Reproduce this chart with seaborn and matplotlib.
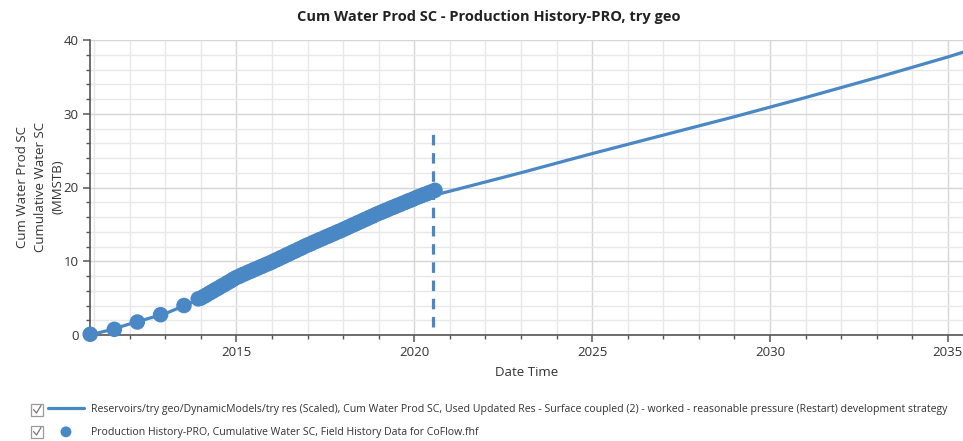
import matplotlib
matplotlib.use("Agg")
import matplotlib.pyplot as plt
import matplotlib.dates as mdates
from matplotlib.lines import Line2D
from matplotlib.patches import Rectangle
from matplotlib.ticker import MultipleLocator
import numpy as np
import pandas as pd
import seaborn as sns

# Simulated cumulative water production (MMSTB)
sim_dates = ["2010-11-20", "2011-07-01", "2012-01-01", "2012-07-01", "2013-01-01",
             "2013-07-01", "2014-01-01", "2014-07-01", "2015-01-01", "2015-07-01",
             "2016-01-01", "2016-07-01", "2017-01-01", "2017-07-01", "2018-01-01",
             "2018-07-01", "2019-01-01", "2019-07-01", "2020-01-01", "2020-08-01",
             "2021-01-01", "2022-01-01", "2023-01-01", "2024-01-01", "2025-01-01",
             "2026-01-01", "2027-01-01", "2028-01-01", "2029-01-01", "2030-01-01",
             "2031-01-01", "2032-01-01", "2033-01-01", "2034-01-01", "2035-01-01",
             "2035-07-01"]
sim_values = [0.0, 0.75, 1.5, 2.2, 2.9, 3.9, 4.95, 6.3, 7.7, 8.8,
              9.8, 11.0, 12.1, 13.2, 14.2, 15.3, 16.3, 17.3, 18.2, 19.0,
              19.5, 20.75, 22.0, 23.3, 24.6, 25.85, 27.1, 28.35, 29.6, 30.9,
              32.2, 33.55, 34.9, 36.3, 37.7, 38.45]

# Field history: early sparse readings
hist_early_dates = ["2010-11-22", "2011-07-28", "2012-03-20", "2012-11-14",
                    "2013-07-12", "2013-12-05"]
hist_early_values = [0.1, 0.77, 1.76, 2.75, 4.0, 4.9]

# Field history: monthly readings Jan 2014 - Aug 2020
hist_monthly_start = "2014-01-01"
hist_monthly_values = [
    5.00, 5.23, 5.44, 5.69, 5.91, 6.16, 6.37, 6.63, 6.84, 7.09, 7.31, 7.57,
    7.80, 7.96, 8.16, 8.32, 8.51, 8.67, 8.86, 9.02, 9.21, 9.37, 9.56, 9.71,
    9.90, 10.10, 10.27, 10.48, 10.65, 10.87, 11.04, 11.25, 11.42, 11.63, 11.80, 12.02,
    12.20, 12.36, 12.56, 12.71, 12.91, 13.06, 13.26, 13.41, 13.61, 13.76, 13.96, 14.11,
    14.30, 14.49, 14.66, 14.86, 15.02, 15.23, 15.39, 15.59, 15.76, 15.96, 16.12, 16.33,
    16.50, 16.66, 16.84, 16.99, 17.18, 17.32, 17.51, 17.66, 17.84, 17.99, 18.18, 18.32,
    18.50, 18.67, 18.81, 18.99, 19.12, 19.30, 19.44, 19.62,
]

restart_date = "2020-07-12"

title = "Cum Water Prod SC - Production History-PRO, try geo"
y_label = "Cum Water Prod SC\nCumulative Water SC\n(MMSTB)"
x_label = "Date Time"
sim_label = ("Reservoirs/try geo/DynamicModels/try res (Scaled), Cum Water Prod SC, "
             "Used Updated Res - Surface coupled (2) - worked - reasonable pressure "
             "(Restart) development strategy")
hist_label = "Production History-PRO, Cumulative Water SC, Field History Data for CoFlow.fhf"

sim_df = pd.DataFrame({"date": pd.to_datetime(sim_dates), "value": sim_values})
hist_dates = list(pd.to_datetime(hist_early_dates)) + list(
    pd.date_range(hist_monthly_start, periods=len(hist_monthly_values), freq="MS"))
hist_df = pd.DataFrame({"date": hist_dates,
                        "value": hist_early_values + hist_monthly_values})

sns.set_theme(style="white")
plt.rcParams["font.family"] = ["Open Sans", "DejaVu Sans"]
text_color = "#333333"
blue = "#4a88c5"

fig = plt.figure(figsize=(9.63, 4.41), dpi=100)
ax = fig.add_axes([90 / 963, 106 / 441, 1 - 90 / 963 + 0.002, 295 / 441])

sns.lineplot(data=sim_df, x="date", y="value", ax=ax, color=blue, linewidth=2.3,
             zorder=3, label=sim_label)
sns.scatterplot(data=hist_df, x="date", y="value", ax=ax, color=blue, s=125,
                linewidth=0, edgecolor="none", zorder=4, label=hist_label,
                clip_on=False)
ax.axvline(pd.Timestamp(restart_date), ymin=0.028, ymax=0.689, color=blue,
           linewidth=2.3, linestyle=(0, (3.3, 2.4)), zorder=2)

ax.set_xlim(pd.Timestamp("2010-11-20"), pd.Timestamp("2035-06-25"))
ax.set_ylim(0, 40)
ax.xaxis.set_major_locator(mdates.YearLocator(5))
ax.xaxis.set_minor_locator(mdates.YearLocator(1))
ax.xaxis.set_major_formatter(mdates.DateFormatter("%Y"))
ax.yaxis.set_major_locator(MultipleLocator(10))
ax.yaxis.set_minor_locator(MultipleLocator(2))

ax.grid(which="major", color="#d6d6d6", linewidth=1.0, zorder=0)
ax.grid(which="minor", color="#e8e8e8", linewidth=1.0, zorder=0)
ax.set_axisbelow(True)

for side in ("top", "right"):
    ax.spines[side].set_visible(False)
for side in ("left", "bottom"):
    ax.spines[side].set_color("#555555")
    ax.spines[side].set_linewidth(1.2)

ax.tick_params(which="major", direction="out", length=5, width=1.1, color="#555555",
               labelsize=9.5, labelcolor=text_color, pad=3)
ax.tick_params(which="minor", direction="out", length=3, width=1.0, color="#555555")
ax.tick_params(axis="both", which="both", bottom=True, left=True)

ax.set_xlabel("")
ax.set_ylabel("")
fig.text(0.5 * (90 + 963) / 963, 1 - 372 / 441, x_label, ha="center", va="center",
         fontsize=9.5, color=text_color)
fig.text(40 / 963, 1 - 187 / 441, y_label, ha="center", va="center", rotation=90,
         multialignment="center", fontsize=9.5, color=text_color, linespacing=1.45)
fig.text(489 / 963, 1 - 17 / 441, title, ha="center", va="center", fontsize=10.5,
         fontweight="bold", color="#222222")

# Legend below the plot with checkbox glyphs
handles, labels = ax.get_legend_handles_labels()
ax.get_legend().remove()
fig.legend(handles, labels, loc="upper left",
           bbox_to_anchor=(48 / 963, 1 - 404 / 441), bbox_transform=fig.transFigure,
           frameon=False, fontsize=7.6, labelcolor=text_color, borderpad=0,
           borderaxespad=0, handlelength=3.4, handletextpad=0.7, labelspacing=1.1,
           markerscale=0.7)

for row_y in (410, 432):
    yc = 1 - row_y / 441
    fig.add_artist(Rectangle((31 / 963, yc - 6 / 441), 12 / 963, 12 / 441,
                             transform=fig.transFigure, facecolor="white",
                             edgecolor="#9a9a9a", linewidth=0.9))
    fig.add_artist(Line2D([33.5 / 963, 36.5 / 963, 41 / 963],
                          [yc + 0.5 / 441, yc - 3 / 441, yc + 4.5 / 441],
                          transform=fig.transFigure, color="#777777", linewidth=0.9))

fig.savefig("out.png", dpi=100)
